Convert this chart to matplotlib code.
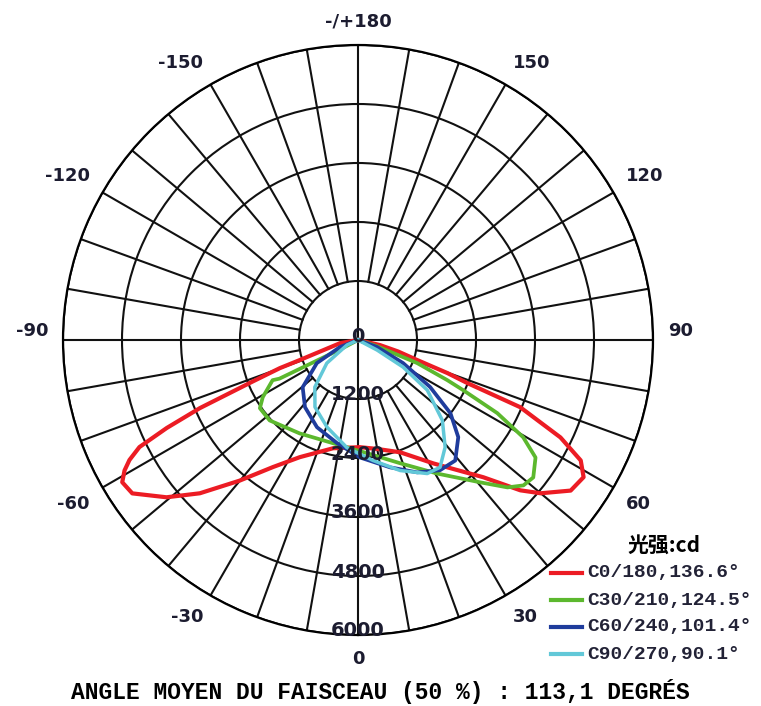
import numpy as np
import matplotlib.pyplot as plt
from matplotlib.lines import Line2D
from matplotlib import transforms

plt.rcParams['font.family'] = ['DejaVu Sans', 'Noto Sans CJK SC']

# luminous intensity curves
# angle in degrees from nadir (right side positive), intensity in cd, in path order
c0_ang = [-90, -80, -71, -70.2, -68.5, -66.7, -65.3, -63.9, -62.3, -60.8, -58.9, -55.8, -50.6, -45.9,
          -40.1, -33.8, -26.4, -13, 1, 10, 20.6, 31.4, 35, 42.4, 47.2, 50, 54.7, 58.7, 61.6,
          64.3, 67.5, 68.5, 69.7, 71.3, 74, 77, 90]
c0_cd = [0, 370, 1250, 1690, 2300, 3500, 4280, 4950, 5250, 5440, 5600, 5550, 5040, 4480,
         3740, 3110, 2660, 2260, 2180, 2250, 2440, 2940, 3160, 3780, 4500, 4850, 5300, 5370, 5150,
         4570, 3570, 2390, 1940, 1270, 850, 460, 0]

c30_ang = [-90, -62, -63.8, -64.8, -59, -55.2, -47.7, -32, -13.6, 4.6, 18.9, 30.7, 40.7, 45.4,
           48.7, 51.9, 56.5, 59.5, 62.3, 64.5, 65.8, 68.7, 72, 90]
c30_cd = [0, 350, 1780, 1920, 2260, 2430, 2430, 2240, 2160, 2310, 2650, 3160, 3820, 4270,
          4480, 4530, 4330, 3900, 3200, 2370, 1990, 1290, 400, 0]

c60_ang = [-90, -68.7, -60.7, -49.5, -38.3, -25.2, -11.5, 1, 14.1, 24.1, 32.2, 38.9, 45.9,
           51.6, 56.9, 62.9, 69.8, 90]
c60_cd = [0, 394, 960, 1480, 1740, 1960, 2140, 2390, 2670, 2950, 3130, 3150, 2840,
          2400, 1750, 1030, 410, 0]

c90_ang = [-90, -65.6, -53.4, -42.5, -32.7, -19.6, -5.9, 7.1, 17.9, 27.4, 32.8, 39.1, 46.4,
           54.1, 59, 62.2, 90]
c90_cd = [0, 246, 790, 1300, 1620, 1880, 2200, 2470, 2790, 3060, 3080, 2810, 2370,
          1740, 1070, 440, 0]

labels = ["C0/180,136.6°", "C30/210,124.5°", "C60/240,101.4°", "C90/270,90.1°"]
colors = ["#ec1c24", "#5cb82e", "#1f3c9c", "#62c8d8"]
widths = [3.0, 2.7, 2.7, 2.5]

ring_vals = [1200, 2400, 3600, 4800, 6000]
angle_ticks = [0, 30, 60, 90, 120, 150, 180, -150, -120, -90, -60, -30]
angle_text = ["0", "30", "60", "90", "120", "150", "-/+180", "-150", "-120", "-90", "-60", "-30"]

W, H = 761, 706
cx, cy, R = 358, 340, 295

fig = plt.figure(figsize=(W / 100, H / 100), dpi=100)
ax = fig.add_axes([(cx - R) / W, (H - cy - R) / H, 2 * R / W, 2 * R / H], projection='polar')
ax.set_theta_zero_location('S')
ax.set_theta_direction(1)
ax.set_ylim(0, 6000)
ax.set_xticks([])
ax.set_yticks(ring_vals)
ax.set_yticklabels([])
ax.yaxis.grid(True, color='#111111', lw=1.5)
ax.spines['polar'].set_linewidth(1.6)

# spokes every 10 degrees, only the main axes go to the centre
for a in range(0, 360, 10):
    r0 = 0 if a % 90 == 0 else ring_vals[0]
    ax.plot([np.radians(a)] * 2, [r0, 6000], color='#111111', lw=1.5, zorder=1)

curves = [(c0_ang, c0_cd), (c30_ang, c30_cd), (c60_ang, c60_cd), (c90_ang, c90_cd)]
for (ang, cd), col, lw in zip(curves, colors, widths):
    ax.plot(np.radians(ang), cd, color=col, lw=lw, zorder=3, solid_joinstyle='round')

txtcol = '#1c1c30'
for a, t in zip(angle_ticks, angle_text):
    th = np.radians(a)
    sx, up = np.sin(th), -np.cos(th)
    ha = 'left' if sx > 0.3 else ('right' if sx < -0.3 else 'center')
    va = 'bottom' if up > 0.3 else ('top' if up < -0.3 else 'bottom')
    ax.text(th, 6300, t, ha=ha, va=va, fontsize=13, weight='bold', color=txtcol, clip_on=False)

up_shift = transforms.offset_copy(ax.transData, fig=fig, x=0, y=4, units='dots')
for r in [0] + ring_vals:
    ax.text(0, r, str(r), ha='center', va='center', fontsize=14, weight='bold', color=txtcol,
            transform=up_shift, zorder=4)

# legend
fig.text(664 / W, 1 - 545 / H, '光强:cd', family=['Noto Sans CJK SC'], weight='bold',
         fontsize=15, ha='center', va='center')
for i, (lab, col) in enumerate(zip(labels, colors)):
    y = 1 - (573 + 27 * i) / H
    fig.add_artist(Line2D([551 / W, 582 / W], [y, y], color=col, lw=3, transform=fig.transFigure))
    fig.text(587 / W, y, lab, family='Liberation Mono', weight='bold', fontsize=14, color='#222236',
             ha='left', va='center')

fig.text(380 / W, 1 - 692 / H, "ANGLE MOYEN DU FAISCEAU (50 %) : 113,1 DEGRÉS",
         family='Liberation Mono', weight='bold', fontsize=16.5, ha='center', va='center')

fig.savefig('out.png', dpi=100)
